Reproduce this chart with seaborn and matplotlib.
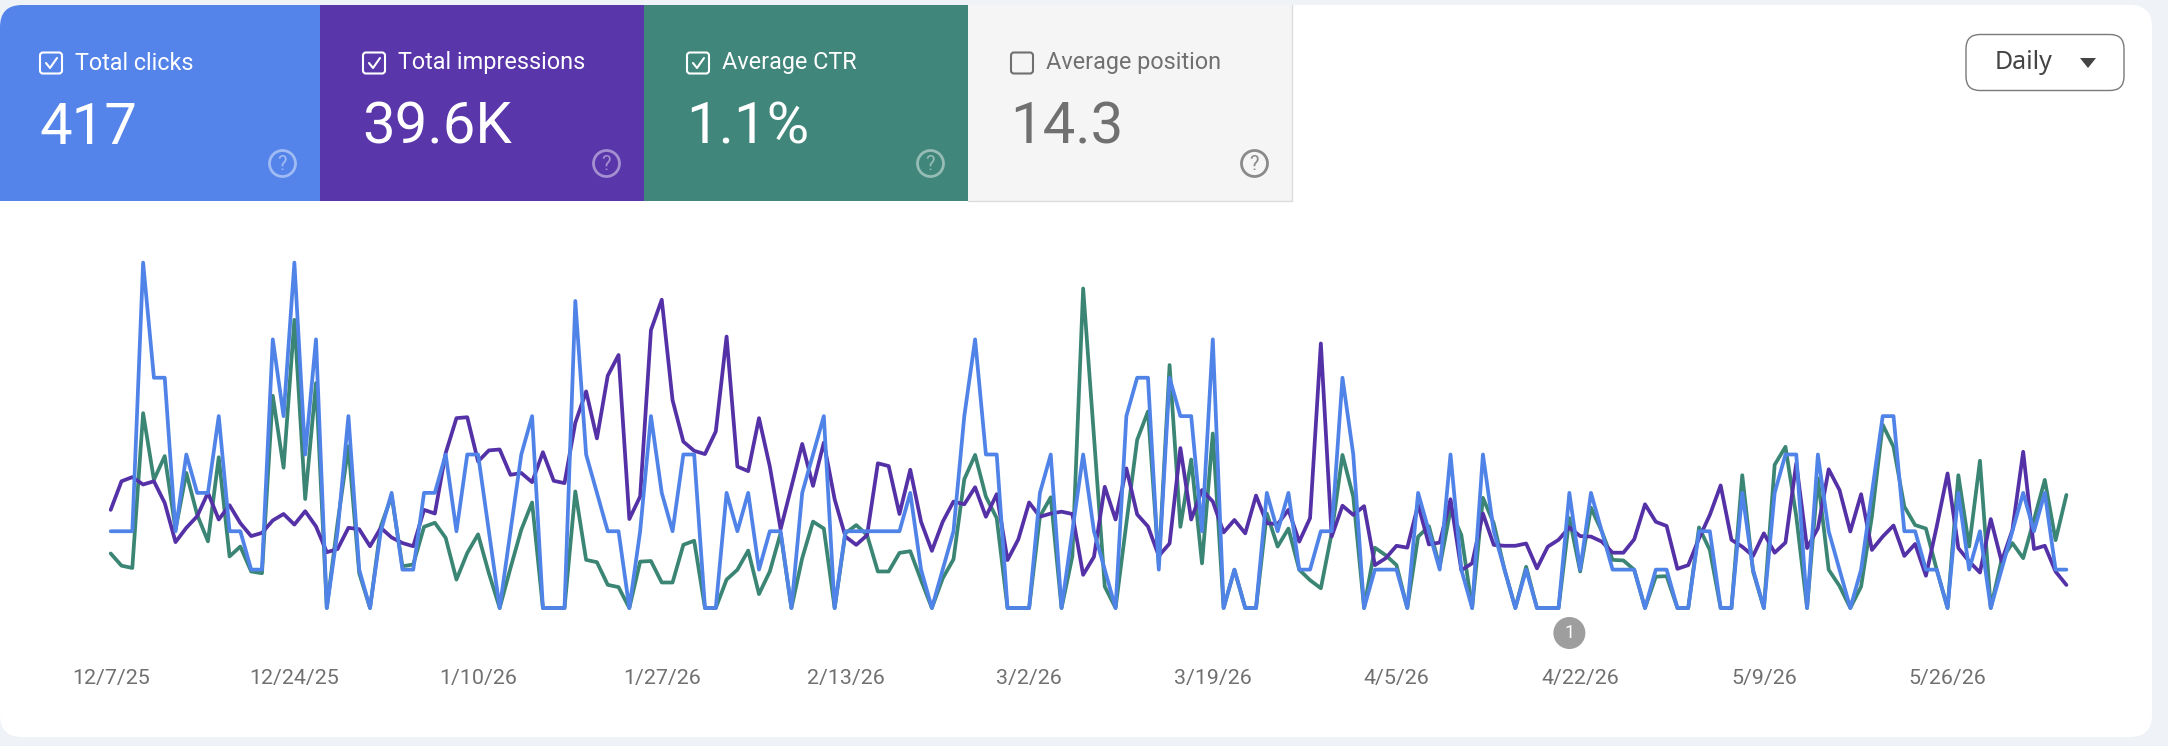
import matplotlib
matplotlib.use("Agg")
import matplotlib.pyplot as plt
from matplotlib.patches import FancyBboxPatch, Rectangle, Circle, Polygon
import numpy as np
import pandas as pd
import seaborn as sns

first_day = "2025-12-07"

clicks = [
    2, 2, 2, 9, 6, 6, 2, 4, 3, 3,
    5, 2, 2, 1, 1, 7, 5, 9, 4, 7,
    0, 2, 5, 1, 0, 2, 3, 1, 1, 3,
    3, 4, 2, 4, 4, 2, 0, 2, 4, 5,
    0, 0, 0, 8, 4, 3, 2, 2, 0, 2,
    5, 3, 2, 4, 4, 0, 0, 3, 2, 3,
    1, 2, 2, 0, 3, 4, 5, 0, 2, 2,
    2, 2, 2, 2, 3, 1, 0, 1, 2, 5,
    7, 4, 4, 0, 0, 0, 3, 4, 0, 2,
    4, 2, 1, 0, 5, 6, 6, 1, 6, 5,
    5, 2, 7, 0, 1, 0, 0, 3, 2, 3,
    1, 1, 2, 2, 6, 4, 0, 1, 1, 1,
    0, 3, 2, 1, 4, 1, 0, 4, 2, 1,
    0, 1, 0, 0, 0, 3, 1, 3, 2, 1,
    1, 1, 0, 1, 1, 0, 0, 2, 2, 0,
    0, 3, 1, 0, 3, 4, 4, 0, 4, 2,
    1, 0, 1, 3, 5, 5, 2, 2, 1, 1,
    0, 3, 1, 2, 0, 1, 2, 3, 2, 3, 1, 1,
]

impressions = [
    213, 275, 284, 268, 275, 228, 143, 174, 199, 250,
    192, 223, 184, 156, 163, 190, 204, 181, 210, 177,
    121, 128, 174, 171, 134, 174, 153, 141, 134, 213,
    205, 336, 412, 414, 318, 342, 344, 289, 293, 273,
    338, 276, 271, 402, 470, 368, 504, 549, 193, 242,
    603, 669, 451, 361, 341, 334, 383, 589, 307, 297,
    412, 307, 171, 263, 356, 265, 359, 236, 155, 137,
    158, 314, 308, 204, 300, 187, 124, 187, 231, 225,
    262, 198, 247, 104, 149, 229, 198, 205, 209, 204,
    72, 111, 263, 192, 303, 203, 177, 113, 140, 347,
    192, 256, 231, 164, 191, 162, 244, 184, 182, 213,
    144, 195, 574, 155, 222, 202, 221, 93, 108, 135,
    131, 224, 138, 142, 236, 82, 97, 205, 137, 135,
    135, 140, 86, 133, 148, 175, 156, 155, 144, 120,
    120, 149, 225, 187, 178, 85, 93, 151, 202, 266,
    148, 133, 113, 162, 120, 142, 314, 130, 173, 301,
    256, 166, 247, 126, 155, 179, 113, 139, 70, 177,
    292, 130, 101, 77, 193, 101, 169, 339, 128, 135, 79, 50,
]

ctr_percent = [
    0.94, 0.73, 0.69, 3.36, 2.21, 2.62, 1.35, 2.33, 1.61, 1.15,
    2.60, 0.89, 1.06, 0.63, 0.60, 3.66, 2.42, 4.97, 1.88, 3.88,
    0, 1.47, 2.79, 0.60, 0, 1.41, 1.93, 0.72, 0.75, 1.40,
    1.47, 1.21, 0.49, 0.95, 1.27, 0.60, 0, 0.69, 1.35, 1.82,
    0, 0, 0, 2.01, 0.83, 0.79, 0.40, 0.36, 0, 0.80,
    0.81, 0.44, 0.44, 1.09, 1.16, 0, 0, 0.49, 0.66, 0.99,
    0.24, 0.63, 1.29, 0, 0.86, 1.49, 1.37, 0, 1.29, 1.43,
    1.26, 0.63, 0.63, 0.95, 0.98, 0.48, 0, 0.51, 0.84, 2.22,
    2.64, 1.92, 1.55, 0, 0, 0, 1.58, 1.91, 0, 0.89,
    5.51, 2.96, 0.37, 0, 1.46, 2.90, 3.39, 0.75, 4.19, 1.40,
    2.56, 0.77, 3.01, 0, 0.66, 0, 0, 1.63, 1.06, 1.37,
    0.66, 0.48, 0.34, 1.29, 2.64, 1.92, 0, 1.04, 0.91, 0.74,
    0, 1.23, 1.41, 0.71, 1.69, 1.26, 0, 1.90, 1.46, 0.66,
    0, 0.71, 0, 0, 0, 1.55, 0.63, 1.73, 1.32, 0.83,
    0.82, 0.66, 0, 0.54, 0.55, 0, 0, 1.39, 1.00, 0,
    0, 2.29, 0.63, 0, 2.47, 2.78, 1.58, 0, 2.24, 0.66,
    0.38, 0, 0.37, 1.58, 3.16, 2.78, 1.75, 1.43, 1.37, 0.66,
    0, 2.29, 1.06, 2.54, 0, 0.83, 1.12, 0.86, 1.52, 2.21, 1.17, 1.95,
]

tick_labels = ["12/7/25", "12/24/25", "1/10/26", "1/27/26", "2/13/26", "3/2/26",
               "3/19/26", "4/5/26", "4/22/26", "5/9/26", "5/26/26"]
tick_days = pd.to_datetime(tick_labels, format="%m/%d/%y")

metric_titles = ["Total clicks", "Total impressions", "Average CTR", "Average position"]
metric_totals = ["417", "39.6K", "1.1%", "14.3"]
annotation_day = pd.Timestamp("2026-04-21")

BLUE = "#5484EA"
PURPLE = "#5A36AB"
GREEN = "#40867A"
LINE_BLUE = "#5083E8"
LINE_PURPLE = "#5431A6"
LINE_GREEN = "#3B8574"
GREY_TEXT = "#707070"

W, H = 2168, 746
sns.set_theme(style="white")
plt.rcParams["font.family"] = ["Roboto", "DejaVu Sans"]

fig = plt.figure(figsize=(W / 100, H / 100), dpi=100, facecolor="#EFF3F8")

# Page furniture lives on a full-figure axes measured in pixels.
page = fig.add_axes([0, 0, 1, 1], zorder=0)
page.set_xlim(0, W)
page.set_ylim(H, 0)
page.axis("off")

card = FancyBboxPatch((0, 5), 2152, 732, boxstyle="round,pad=0,rounding_size=22",
                      facecolor="white", edgecolor="none")
page.add_patch(card)

tile_edges = [0, 320, 644, 968, 1292]
tile_colors = [BLUE, PURPLE, GREEN, "#F5F5F5"]
text_nudge = [0, 3, 3, 3]
for k, (title, total) in enumerate(zip(metric_titles, metric_totals)):
    x0, x1 = tile_edges[k], tile_edges[k + 1]
    nudge = text_nudge[k]
    fg = "white" if k < 3 else GREY_TEXT
    tile = Rectangle((x0, 5), x1 - x0, 196, facecolor=tile_colors[k], edgecolor="none")
    page.add_patch(tile)
    tile.set_clip_path(card)
    if k == 3:
        page.plot([x0, x1, x1], [201, 201, 5], color="#DADCE0", lw=1)

    # checkbox
    bx = x0 + 40 + nudge
    page.add_patch(FancyBboxPatch((bx, 52.5), 22, 21, boxstyle="round,pad=0,rounding_size=3",
                                  facecolor="none", edgecolor=fg, lw=1.5))
    if k < 3:
        page.plot([bx + 6, bx + 10, bx + 17], [63, 68, 58], color=fg, lw=1.5)

    page.text(x0 + 75 + nudge, 63, title, color=fg, fontsize=16.8, va="center", ha="left")
    page.text(x0 + 39 + nudge, 128.5, total, color=fg, fontsize=41.8, va="center", ha="left")

    # help icon
    cx = x1 - 37.5
    ring = "#FFFFFF" if k < 3 else "#8A8A8A"
    alpha = 0.45 if k < 3 else 1
    page.add_patch(Circle((cx, 163.5), 13, facecolor="none", edgecolor=ring, lw=2, alpha=alpha))
    page.text(cx, 164, "?", color=ring, alpha=alpha, fontsize=14.5, ha="center", va="center")

# Granularity selector
page.add_patch(FancyBboxPatch((1966, 34.5), 158, 56, boxstyle="round,pad=0,rounding_size=14",
                              facecolor="white", edgecolor="#7A7A7A", lw=1))
page.text(2024, 62.5, "Daily", color="#444444", fontsize=18, family=["Noto Sans"], ha="center", va="center")
page.add_patch(Polygon([(2080, 58), (2096, 58), (2088, 68)], facecolor="#444444", edgecolor="none"))

# Event marker above the date axis
AX_LEFT, AX_RIGHT, AX_TOP, AX_BOTTOM = 110.7, 2066.4, 262.6, 608
days = pd.date_range(first_day, periods=len(clicks), freq="D")
frac = (annotation_day - days[0]) / (days[-1] - days[0])
mx = AX_LEFT + frac * (AX_RIGHT - AX_LEFT)
page.add_patch(Circle((mx, 633), 16, facecolor="#9E9E9E", edgecolor="none"))
page.text(mx, 633.5, "1", color="white", fontsize=13, ha="center", va="center")

# Each metric has its own hidden vertical scale, all starting from zero.
df = pd.DataFrame({"date": days, "clicks": clicks, "impressions": impressions, "ctr": ctr_percent})
rect = [AX_LEFT / W, 1 - AX_BOTTOM / H, (AX_RIGHT - AX_LEFT) / W, (AX_BOTTOM - AX_TOP) / H]
ax_ctr = fig.add_axes(rect, zorder=1)
ax_imp = ax_ctr.twinx()
ax_clk = ax_ctr.twinx()
series = [(ax_ctr, "ctr", LINE_GREEN, 5.957), (ax_imp, "impressions", LINE_PURPLE, 749.5), (ax_clk, "clicks", LINE_BLUE, 9)]
for ax, col, color, top in series:
    sns.lineplot(data=df, x="date", y=col, ax=ax, color=color, linewidth=2.7, legend=False,
                 errorbar=None, estimator=None, clip_on=False)
    ax.set_ylim(0, top)
    ax.set_xlim(days[0], days[-1])
    ax.patch.set_visible(False)
    ax.set_xlabel("")
    ax.set_ylabel("")
    ax.set_yticks([])
    for s in ax.spines.values():
        s.set_visible(False)

ax_ctr.set_xticks(tick_days)
ax_ctr.set_xticklabels(tick_labels, fontsize=15.4, color=GREY_TEXT)
ax_ctr.tick_params(axis="x", length=0, pad=44)

fig.savefig("out.png", dpi=100, facecolor=fig.get_facecolor())
